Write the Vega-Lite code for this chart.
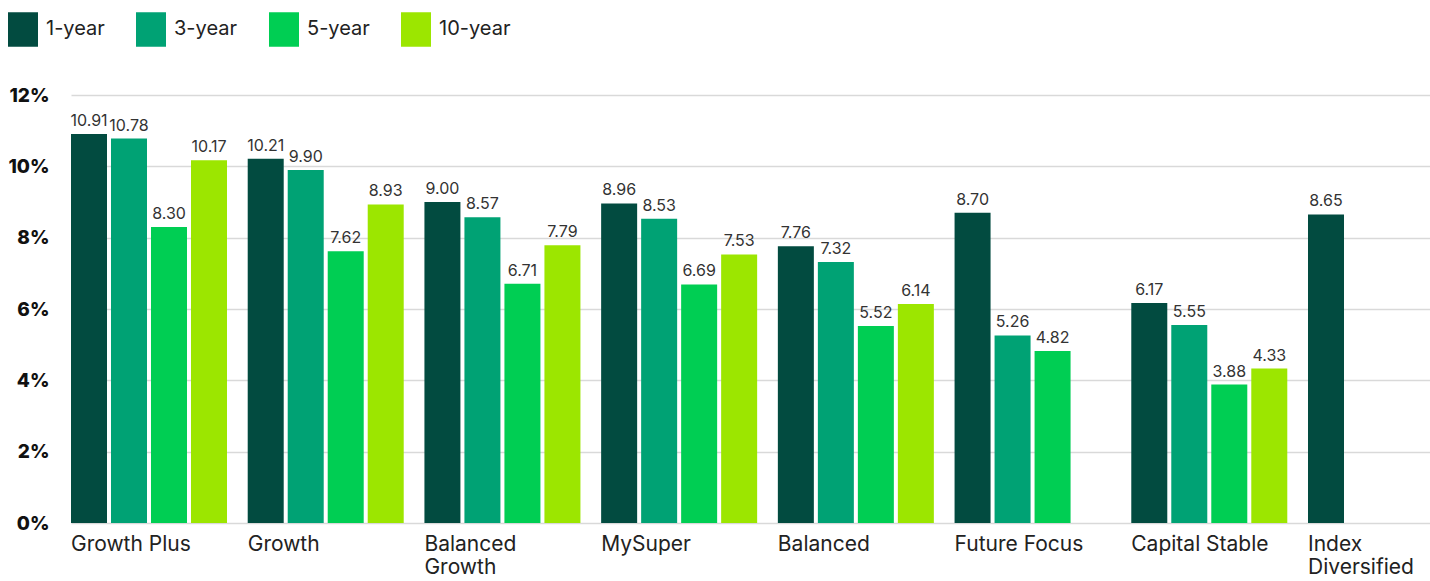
{
  "$schema": "https://vega.github.io/schema/vega-lite/v6.json",
  "width": 1323,
  "height": 428,
  "autosize": {"type": "none"},
  "padding": {"left": 60, "top": 95, "right": 47, "bottom": 58},
  "background": "white",
  "config": {"view": {"stroke": null}, "font": "Inter"},
  "data": {
    "values": [
      {"fund": "Growth Plus", "period": "1-year", "value": 10.91},
      {"fund": "Growth Plus", "period": "3-year", "value": 10.78},
      {"fund": "Growth Plus", "period": "5-year", "value": 8.30},
      {"fund": "Growth Plus", "period": "10-year", "value": 10.17},
      {"fund": "Growth", "period": "1-year", "value": 10.21},
      {"fund": "Growth", "period": "3-year", "value": 9.90},
      {"fund": "Growth", "period": "5-year", "value": 7.62},
      {"fund": "Growth", "period": "10-year", "value": 8.93},
      {"fund": "Balanced Growth", "period": "1-year", "value": 9.00},
      {"fund": "Balanced Growth", "period": "3-year", "value": 8.57},
      {"fund": "Balanced Growth", "period": "5-year", "value": 6.71},
      {"fund": "Balanced Growth", "period": "10-year", "value": 7.79},
      {"fund": "MySuper", "period": "1-year", "value": 8.96},
      {"fund": "MySuper", "period": "3-year", "value": 8.53},
      {"fund": "MySuper", "period": "5-year", "value": 6.69},
      {"fund": "MySuper", "period": "10-year", "value": 7.53},
      {"fund": "Balanced", "period": "1-year", "value": 7.76},
      {"fund": "Balanced", "period": "3-year", "value": 7.32},
      {"fund": "Balanced", "period": "5-year", "value": 5.52},
      {"fund": "Balanced", "period": "10-year", "value": 6.14},
      {"fund": "Future Focus", "period": "1-year", "value": 8.70},
      {"fund": "Future Focus", "period": "3-year", "value": 5.26},
      {"fund": "Future Focus", "period": "5-year", "value": 4.82},
      {"fund": "Capital Stable", "period": "1-year", "value": 6.17},
      {"fund": "Capital Stable", "period": "3-year", "value": 5.55},
      {"fund": "Capital Stable", "period": "5-year", "value": 3.88},
      {"fund": "Capital Stable", "period": "10-year", "value": 4.33},
      {"fund": "Index Diversified", "period": "1-year", "value": 8.65}
    ]
  },
  "encoding": {
    "x": {
      "field": "fund",
      "type": "nominal",
      "sort": ["Growth Plus", "Growth", "Balanced Growth", "MySuper", "Balanced", "Future Focus", "Capital Stable", "Index Diversified"],
      "scale": {"range": [11, 1404], "paddingInner": 0.1172, "paddingOuter": 0},
      "axis": {
        "title": null,
        "domain": false,
        "ticks": false,
        "grid": false,
        "labelAngle": 0,
        "labelOffset": -78,
        "labelAlign": "left",
        "labelBaseline": "top",
        "labelPadding": 10,
        "labelFontSize": 21,
        "labelColor": "#222222",
        "labelLineHeight": 23,
        "labelOverlap": false,
        "labelLimit": 0,
        "labelExpr": "datum.label == 'Balanced Growth' ? ['Balanced', 'Growth'] : datum.label == 'Index Diversified' ? ['Index', 'Diversified'] : datum.label"
      }
    },
    "xOffset": {
      "field": "period",
      "type": "nominal",
      "sort": ["1-year", "3-year", "5-year", "10-year"],
      "scale": {"paddingInner": 0.1, "paddingOuter": 0}
    },
    "y": {
      "field": "value",
      "type": "quantitative",
      "scale": {"domain": [0, 12]},
      "axis": {
        "title": null,
        "values": [0, 2, 4, 6, 8, 10, 12],
        "labelExpr": "datum.value + '%'",
        "domain": false,
        "ticks": false,
        "labelPadding": 11,
        "labelFontSize": 19,
        "labelFontWeight": 800,
        "labelColor": "#111111",
        "gridColor": "#d9d9d9",
        "gridWidth": 1.5
      }
    }
  },
  "layer": [
    {
      "mark": {"type": "bar"},
      "encoding": {
        "color": {
          "field": "period",
          "type": "nominal",
          "sort": ["1-year", "3-year", "5-year", "10-year"],
          "scale": {"domain": ["1-year", "3-year", "5-year", "10-year"], "range": ["#024B40", "#00A274", "#00CE53", "#9CE600"]},
          "legend": {
            "orient": "none",
            "legendX": -52,
            "legendY": -81,
            "direction": "horizontal",
            "title": null,
            "symbolType": "M-1,-1.15H1V1.15H-1Z",
            "symbolSize": 900,
            "symbolStrokeWidth": 0,
            "symbolOpacity": 1,
            "labelFontSize": 20,
            "labelColor": "#222222",
            "labelOffset": 8,
            "columnPadding": 31,
            "padding": 0
          }
        }
      }
    },
    {
      "mark": {"type": "text", "dy": -8, "baseline": "alphabetic", "fontSize": 16, "color": "#333333"},
      "encoding": {
        "text": {"field": "value", "type": "quantitative", "format": ".2f"}
      }
    }
  ]
}
